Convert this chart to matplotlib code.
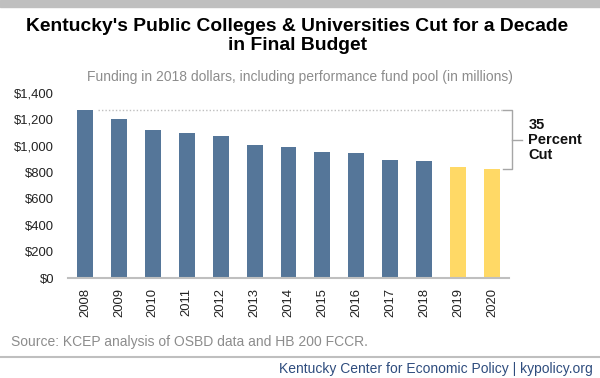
import matplotlib.pyplot as plt
from matplotlib.ticker import FuncFormatter

plt.rcParams['font.family'] = ['Liberation Sans', 'DejaVu Sans']

# Data: funding in 2018 dollars (millions)
years = ['2008', '2009', '2010', '2011', '2012', '2013', '2014',
         '2015', '2016', '2017', '2018', '2019', '2020']
funding = [1268, 1206, 1117, 1101, 1076, 1005, 990, 955, 949, 894, 883, 843, 823]
# final budget years are highlighted
budget_years = ['2019', '2020']

blue = '#557699'
yellow = '#FFD966'
colors = [yellow if y in budget_years else blue for y in years]

fig = plt.figure(figsize=(6, 3.78), dpi=100)

# top band and footer line
fig.patches.append(plt.Rectangle((0, 1 - 7 / 378), 1, 7 / 378, transform=fig.transFigure,
                                 color='#BFBFBF', zorder=0))
fig.add_artist(plt.Line2D([0, 1], [1 - 357 / 378] * 2, color='#BFBFBF', lw=1.5))

ax = fig.add_axes([68 / 600, 1 - 278 / 378, 441 / 600, 185 / 378])
x = range(len(years))
ax.bar(x, funding, width=0.47, color=colors)
ax.set_xlim(-0.5, 12.5)
ax.set_ylim(0, 1400)
ax.set_yticks(range(0, 1401, 200))
ax.yaxis.set_major_formatter(FuncFormatter(lambda v, p: '${:,.0f}'.format(v)))
ax.set_xticks(list(x))
ax.set_xticklabels(years, rotation=90)
ax.tick_params(axis='y', length=0, pad=10, labelsize=9.4, colors='#222222')
ax.tick_params(axis='x', length=0, pad=7, labelsize=9.4, colors='#222222')
for s in ['top', 'right', 'left']:
    ax.spines[s].set_visible(False)
ax.spines['bottom'].set_color('#BFBFBF')
ax.spines['bottom'].set_linewidth(1.5)

# dotted reference line at 2008 level
top, low = funding[0], funding[-1]
ax.plot([0.38, 12.33], [top, top], color='#BFBFBF', lw=1, ls=(0, (1, 1.5)), clip_on=False)

# bracket showing the cut
bx = 12.6
ax.plot([12.33, bx, bx, 12.33], [top, top, low, low], color='#A6A6A6', lw=1, clip_on=False)
mid = (top + low) / 2
ax.plot([bx, 12.89], [mid, mid], color='#A6A6A6', lw=1, clip_on=False)
ax.text(13.07, mid, '35\nPercent\nCut', fontsize=10.5, fontweight='bold', va='center',
        ha='left', linespacing=1.1, color='#111111', clip_on=False)

# titles and notes
fig.text(0.495, 1 - 36 / 378, "Kentucky's Public Colleges & Universities Cut for a Decade\nin Final Budget",
         ha='center', va='center', fontsize=13.9, fontweight='bold', linespacing=1.15)
fig.text(0.5, 1 - 77 / 378, 'Funding in 2018 dollars, including performance fund pool (in millions)',
         ha='center', va='center', fontsize=10, color='#8C8C8C')
fig.text(11 / 600, 1 - 342 / 378, 'Source: KCEP analysis of OSBD data and HB 200 FCCR.',
         ha='left', va='center', fontsize=10, color='#8C8C8C')
fig.text(593 / 600, 1 - 369 / 378, 'Kentucky Center for Economic Policy | kypolicy.org',
         ha='right', va='center', fontsize=10, color='#2F4D7E')

fig.savefig('out.png', dpi=100)
